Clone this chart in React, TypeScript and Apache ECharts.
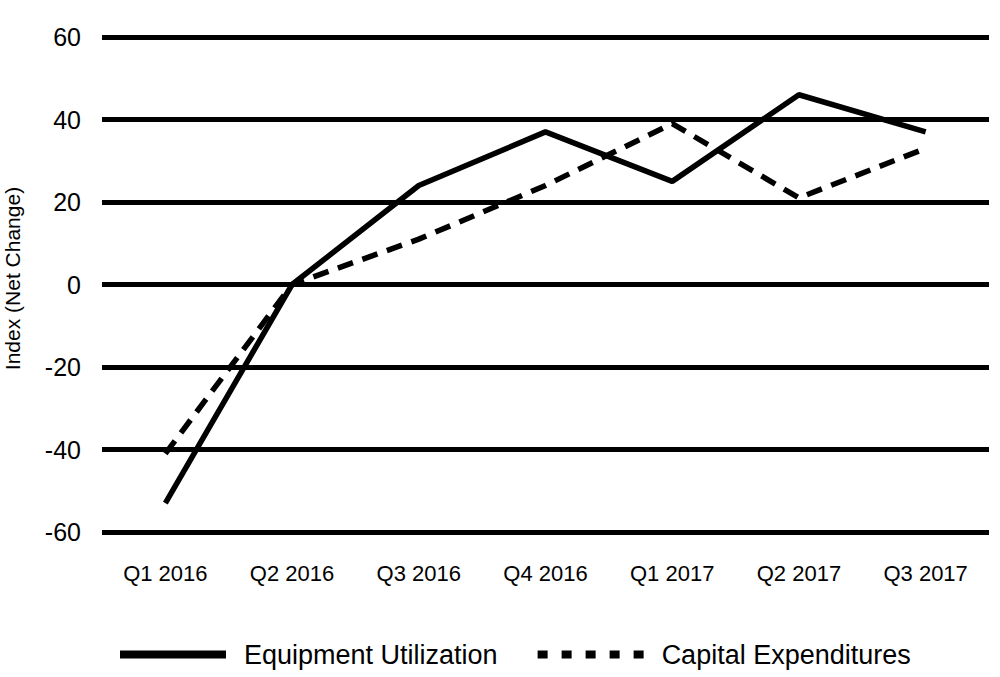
import * as echarts from "echarts";
import { useEffect, useRef } from "react";

const quarters = ["Q1 2016", "Q2 2016", "Q3 2016", "Q4 2016", "Q1 2017", "Q2 2017", "Q3 2017"];
const equipmentUtilization = [-53, 0, 24, 37, 25, 46, 37];
const capitalExpenditures = [-41, 0, 11, 24, 39, 21, 33];

const FONT = "'Liberation Sans', Arial, Helvetica, sans-serif";
// five square dashes for the legend key of the dashed series
const DASH_ICON = "path://M0,0h10v8h-10z M24,0h10v8h-10z M48,0h10v8h-10z M72,0h10v8h-10z M96,0h10v8h-10z";

export default function App() {
  const chartRef = useRef<HTMLDivElement>(null);

  useEffect(() => {
    if (!chartRef.current) return;
    const chart = echarts.init(chartRef.current, undefined, { renderer: "svg" });
    chart.setOption({
      animation: false,
      backgroundColor: "#fff",
      grid: { left: 102, right: 11, top: 37, bottom: 145, outerBoundsMode: "none", containLabel: false },
      legend: {
        top: 636,
        left: 115,
        itemWidth: 106,
        itemHeight: 8,
        itemGap: 40,
        textStyle: { fontFamily: FONT, fontSize: 27, color: "#000", padding: [0, 0, 0, 13] },
        data: [
          { name: "Equipment Utilization", icon: "rect" },
          { name: "Capital Expenditures", icon: DASH_ICON },
        ],
      },
      xAxis: {
        type: "category",
        data: quarters,
        axisLine: { show: false },
        axisTick: { show: false },
        axisLabel: { color: "#000", fontFamily: FONT, fontSize: 22, margin: 30 },
      },
      yAxis: {
        type: "value",
        min: -60,
        max: 60,
        interval: 20,
        name: "Index (Net Change)",
        nameLocation: "middle",
        nameGap: 79,
        nameTextStyle: { color: "#000", fontFamily: FONT, fontSize: 21, padding: [0, 0, 0, 12] },
        axisLine: { show: false },
        axisTick: { show: false },
        axisLabel: { color: "#000", fontFamily: FONT, fontSize: 25, margin: 21 },
        splitLine: { lineStyle: { color: "#000", width: 5 } },
      },
      series: [
        {
          name: "Equipment Utilization",
          type: "line",
          data: equipmentUtilization,
          symbol: "none",
          lineStyle: { color: "#000", width: 5.5 },
          itemStyle: { color: "#000" },
        },
        {
          name: "Capital Expenditures",
          type: "line",
          data: capitalExpenditures,
          symbol: "none",
          lineStyle: { color: "#000", width: 5.5, type: [16, 10] },
          itemStyle: { color: "#000" },
        },
      ],
    });
    return () => chart.dispose();
  }, []);

  return (
    <div
      ref={chartRef}
      style={{ position: "fixed", left: 0, top: 0, width: 1000, height: 677 }}
    />
  );
}
